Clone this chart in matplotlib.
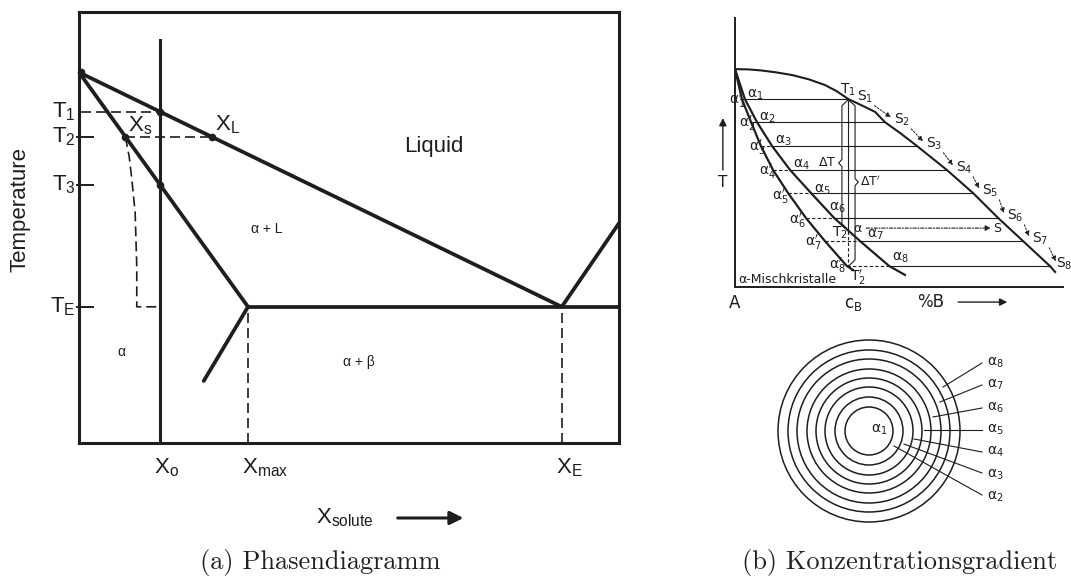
import matplotlib.pyplot as plt
from matplotlib.patches import Circle

plt.rcParams['font.family'] = ['Liberation Sans', 'DejaVu Sans']
plt.rcParams['mathtext.fontset'] = 'custom'
plt.rcParams['mathtext.rm'] = 'Liberation Sans'
plt.rcParams['mathtext.it'] = 'Liberation Sans:italic'

ink = '#1e1e1e'

# ---------------- (a) Phasendiagramm  (composition 0..100, temperature 0..100)
T_A = 86.0          # melting point of the solvent
X_0 = 15.0
X_max = 31.3
X_E = 89.4
T_E = 31.6
T_1 = 76.8
T_2 = 71.0
T_3 = 59.9
X_s = 8.6
X_L = 24.6
beta_liq_T = 51.0   # beta liquidus at the right edge
solvus_X = [31.3, 23.1]
solvus_T = [31.6, 14.4]
x0_top = 93.5
noneq_X = [8.6, 9.3, 9.8, 10.4, 10.7, 10.7, 14.4]
noneq_T = [71.0, 66.4, 61.0, 53.4, 40.8, 31.6, 31.6]
temp_names = ['T_1', 'T_2', 'T_3', 'T_E']
temp_vals = [T_1, T_2, T_3, T_E]

# ---------------- (b) T - %B diagram (B 0..100, T 0..100)
liq_B = [0, 4.0, 8.0, 12.5, 17.4, 22.5, 27.4, 31.0, 34.5, 38.5, 42.7, 45.7,
         50.5, 55.5, 64.6, 72.6, 80.2, 87.8, 96.0, 97.6]
liq_T = [81.0, 80.9, 80.5, 79.8, 78.8, 77.2, 75.1, 72.8, 69.9, 67.6, 65.1, 61.3,
         57.1, 52.4, 43.5, 34.9, 25.7, 17.1, 7.8, 5.6]
tie_T = [69.9, 61.3, 52.4, 43.5, 34.9, 25.7, 17.1, 7.8]
tie_liq = [34.5, 45.7, 55.5, 64.6, 72.6, 80.2, 87.8, 96.0]
sol_B = [3.0, 6.7, 11.3, 16.8, 23.2, 30.2, 38.1, 47.0]     # equilibrium solidus
sol_end = (51.8, 4.5)
solp_B = [2.1, 4.9, 7.9, 11.6, 16.2, 21.6, 27.4, 34.1]     # non-equilibrium solidus
solp_end = (36.0, 6.3)
c_B = 34.5
Tb_2 = 21.0
Tb_2p = 7.6
dot_T = 21.9
alpha_lab_B = [6.1, 9.8, 14.6, 20.4, 26.5, 31.1, 42.7, 50.3]
alpha_lab_T = [71.4, 62.8, 54.3, 45.4, 36.1, 29.4, 19.3, 10.8]
alphap_lab_B = [0.6, 3.7, 6.7, 9.8, 13.7, 18.9, 23.8, 31.1]
alphap_lab_T = [69.5, 61.0, 52.0, 42.8, 33.5, 24.9, 16.4, 8.2]
s_lab_dx = [5.3, 5.3, 5.3, 5.3, 5.3, 5.3, 5.3, 4.3]

# ---------------- (b) rings
ring_r = [24, 34, 44, 53, 62, 72, 81, 91]
ring_lab_y = [-66, -44, -21, 1, 23, 46, 68]          # alpha_2 .. alpha_8
lead_start_y = [-64, -42, -21, 1, 23, 46, 68]
lead_end_x = [25, 35, 45, 55, 64, 71, 74]
lead_end_y = [-15, -13, -8, 1, 14, 29, 44]


fig = plt.figure(figsize=(10.71, 5.78), dpi=100)

# ===================== left panel
ax = fig.add_axes([79 / 1071, 135 / 578, 540 / 1071, 431 / 578])
ax.set_xlim(0, 100)
ax.set_ylim(0, 100)
ax.set_xticks([])
ax.set_yticks([])
for s in ax.spines.values():
    s.set_linewidth(2.2)
    s.set_color(ink)

thick = dict(color=ink, lw=2.7, solid_capstyle='round')
ax.plot([0, X_E], [T_A, T_E], **thick)
ax.plot([X_E, 100], [T_E, beta_liq_T], **thick)
ax.plot([0, X_max], [T_A, T_E], **thick)
ax.plot([X_max, 100], [T_E, T_E], **thick)
ax.plot(solvus_X, solvus_T, **thick)
ax.plot([X_0, X_0], [0, x0_top], color=ink, lw=2.2)

dash = dict(color=ink, lw=1.2, dashes=(6, 3))
ax.plot([0.3, X_0], [T_1, T_1], **dash)
ax.plot([X_s, X_L], [T_2, T_2], **dash)
ax.plot(noneq_X, noneq_T, **dash)
ax.plot([X_max, X_max], [0, T_E], **dash)
ax.plot([X_E, X_E], [0, T_E], **dash)

for t in [T_2, T_3, T_E]:
    ax.plot([-0.3, 2.6], [t, t], color=ink, lw=1.4, clip_on=False)

ax.plot([0.4, X_0, X_0, X_s, X_L], [T_A, T_1, T_3, T_2, T_2], 'o', ms=4.5,
        color=ink, clip_on=False)

for name, t in zip(temp_names, temp_vals):
    ax.text(-0.6, t, r'$\mathrm{%s}$' % name, fontsize=16, ha='right',
            va='center', color=ink)
ax.text(-10.9, 54.1, 'Temperature', rotation=90, fontsize=16, ha='center',
        va='center', color=ink)

ax.text(X_s + 0.5, T_2 + 2.6, r'$\mathrm{X_s}$', fontsize=16, ha='left', va='center', color=ink)
ax.text(X_L + 0.6, T_2 + 2.8, r'$\mathrm{X_L}$', fontsize=16, ha='left', va='center', color=ink)
ax.text(65.7, 68.7, 'Liquid', fontsize=16, ha='center', va='center', color=ink)
ax.text(34.8, 49.7, 'α + L', fontsize=10, ha='center', va='center', color=ink)
ax.text(7.8, 21.1, 'α', fontsize=10, ha='center', va='center', color=ink)
ax.text(51.9, 18.8, 'α + β', fontsize=10, ha='center', va='center', color=ink)

ax.text(X_0 - 1.1, -5.8, r'$\mathrm{X_o}$', fontsize=16, ha='left', va='center', color=ink)
ax.text(X_max - 1.1, -5.8, r'$\mathrm{X_{max}}$', fontsize=16, ha='left', va='center', color=ink)
ax.text(X_E - 1.1, -5.8, r'$\mathrm{X_E}$', fontsize=16, ha='left', va='center', color=ink)
ax.text(43.9, -17.4, r'$\mathrm{X_{solute}}$', fontsize=16, ha='left', va='center', color=ink)
ax.annotate('', xy=(71.7, -17.4), xytext=(58.5, -17.4), annotation_clip=False,
            arrowprops=dict(arrowstyle='-|>', lw=2.2, color=ink, mutation_scale=20))

# ===================== right panel, T - %B
bx = fig.add_axes([735 / 1071, 291 / 578, 328 / 1071, 269 / 578])
bx.set_xlim(0, 100)
bx.set_ylim(0, 100)
bx.set_xticks([])
bx.set_yticks([])
bx.patch.set_alpha(0)
bx.spines['top'].set_visible(False)
bx.spines['right'].set_visible(False)
for s in ['left', 'bottom']:
    bx.spines[s].set_linewidth(1.4)
    bx.spines[s].set_color(ink)

rk = dict(fontfamily='DejaVu Sans', math_fontfamily='dejavusans', color=ink,
          ha='center', va='center')

bx.plot(liq_B, liq_T, color=ink, lw=1.5)
bx.plot([0] + sol_B + [sol_end[0]], [liq_T[0]] + tie_T + [sol_end[1]], color=ink, lw=1.6)
bx.plot([0] + solp_B + [solp_end[0]], [liq_T[0]] + tie_T + [solp_end[1]], color=ink, lw=1.6)

for i in range(8):
    if i < 2:
        bx.plot([solp_B[i], tie_liq[i]], [tie_T[i], tie_T[i]], color=ink, lw=0.8)
    else:
        bx.plot([solp_B[i], sol_B[i]], [tie_T[i], tie_T[i]], color=ink, lw=0.8,
                dashes=(3, 2))
        bx.plot([sol_B[i], tie_liq[i]], [tie_T[i], tie_T[i]], color=ink, lw=0.8)

# dash-dot line alpha -> S
bx.annotate('', xy=(78.0, dot_T), xytext=(40.0, dot_T),
            arrowprops=dict(arrowstyle='-|>', lw=0.8, color=ink, ls=(0, (3, 1.5, 1, 1.5)),
                            mutation_scale=8, shrinkA=0, shrinkB=0))
bx.text(37.6, dot_T, r'$\mathrm{\alpha}$', fontsize=9, **rk)
bx.text(80.0, dot_T, 'S', fontsize=9, **rk)

# c_B line and braces
bx.plot([c_B, c_B], [tie_T[0], Tb_2], color=ink, lw=0.8)
bx.plot([c_B, c_B], [Tb_2, Tb_2p], color=ink, lw=0.8, dashes=(3, 2))


def brace(xb, t_top, t_bot, t_mid, d):
    xs = [c_B, xb, xb, xb + d, xb, xb, c_B]
    ts = [t_top - 0.3, t_top - 2.5, t_mid + 1.3, t_mid, t_mid - 1.3, t_bot + 2.5, t_bot]
    bx.plot(xs, ts, color=ink, lw=0.8)


brace(32.6, tie_T[0], Tb_2, 46.1, -1.0)
brace(36.6, tie_T[0], Tb_2p, 39.0, 1.0)
bx.text(30.8, 46.1, r'$\Delta\mathrm{T}$', fontsize=9, ha='right', va='center',
        fontfamily='DejaVu Sans', math_fontfamily='dejavusans', color=ink)
bx.text(38.2, 39.0, r"$\Delta\mathrm{T}^{\prime}$", fontsize=9, ha='left', va='center',
        fontfamily='DejaVu Sans', math_fontfamily='dejavusans', color=ink)

for i in range(8):
    bx.text(alpha_lab_B[i], alpha_lab_T[i], r'$\mathrm{\alpha}_%d$' % (i + 1), fontsize=10, **rk)
    bx.text(alphap_lab_B[i], alphap_lab_T[i], r'$\mathrm{\alpha}_%d^{\prime}$' % (i + 1),
            fontsize=10, **rk)
    bx.text(tie_liq[i] + s_lab_dx[i], tie_T[i] + 0.8, r'$\mathrm{S}_%d$' % (i + 1),
            fontsize=10, **rk)
for i in range(7):
    bx.annotate('', xy=(tie_liq[i + 1] + 1.8, tie_T[i + 1] + 1.8),
                xytext=(tie_liq[i] + 8.0, tie_T[i] - 2.5),
                arrowprops=dict(arrowstyle='-|>', lw=0.7, color=ink, ls=(0, (2, 1.5)),
                                mutation_scale=7, shrinkA=0, shrinkB=0))

bx.text(34.5, 73.2, r'$\mathrm{T}_1$', fontsize=10, **rk)
bx.text(32.0, 20.0, r'$\mathrm{T}_2$', fontsize=10, **rk)
bx.text(37.4, 3.4, r'$\mathrm{T}_2^{\prime}$', fontsize=10, **rk)
bx.text(0.9, 2.8, 'α-Mischkristalle', fontsize=9, ha='left', va='center',
        fontfamily='DejaVu Sans', color=ink)

bx.text(0, -6.0, 'A', fontsize=12, **rk)
bx.text(36.0, -6.3, r'$\mathrm{c_B}$', fontsize=12, **rk)
bx.text(59.5, -5.6, '%B', fontsize=12, **rk)
bx.annotate('', xy=(83.0, -5.6), xytext=(68.0, -5.6), annotation_clip=False,
            arrowprops=dict(arrowstyle='-|>', lw=1.0, color=ink, mutation_scale=11,
                            shrinkA=0, shrinkB=0))
bx.text(-3.7, 38.7, 'T', fontsize=11, **rk)
bx.annotate('', xy=(-3.7, 62.8), xytext=(-3.7, 43.5), annotation_clip=False,
            arrowprops=dict(arrowstyle='-|>', lw=1.0, color=ink, mutation_scale=11,
                            shrinkA=0, shrinkB=0))

# ===================== right panel, rings
cx = fig.add_axes([760 / 1071, 48 / 578, 311 / 1071, 200 / 578])
cx.set_xlim(-109, 202)
cx.set_ylim(-99, 101)
cx.axis('off')
for r in ring_r:
    cx.add_patch(Circle((0, 0), r, fill=False, lw=1.1, color=ink))
cx.text(10, 1, r'$\mathrm{\alpha}_1$', fontsize=10, **rk)
for i in range(7):
    cx.plot([113, lead_end_x[i]], [lead_start_y[i], lead_end_y[i]], color=ink, lw=0.8)
    cx.text(118, ring_lab_y[i], r'$\mathrm{\alpha}_%d$' % (i + 2), fontsize=10,
            ha='left', va='center', fontfamily='DejaVu Sans',
            math_fontfamily='dejavusans', color=ink)

# ===================== captions
fig.text(320 / 1071, 1 - 562 / 578, '(a) Phasendiagramm', fontfamily='cmr10',
         fontsize=19, ha='center', va='center', color='#222222')
fig.text(900 / 1071, 1 - 562 / 578, '(b) Konzentrationsgradient', fontfamily='cmr10',
         fontsize=19, ha='center', va='center', color='#222222')

fig.savefig('out.png', dpi=100)
